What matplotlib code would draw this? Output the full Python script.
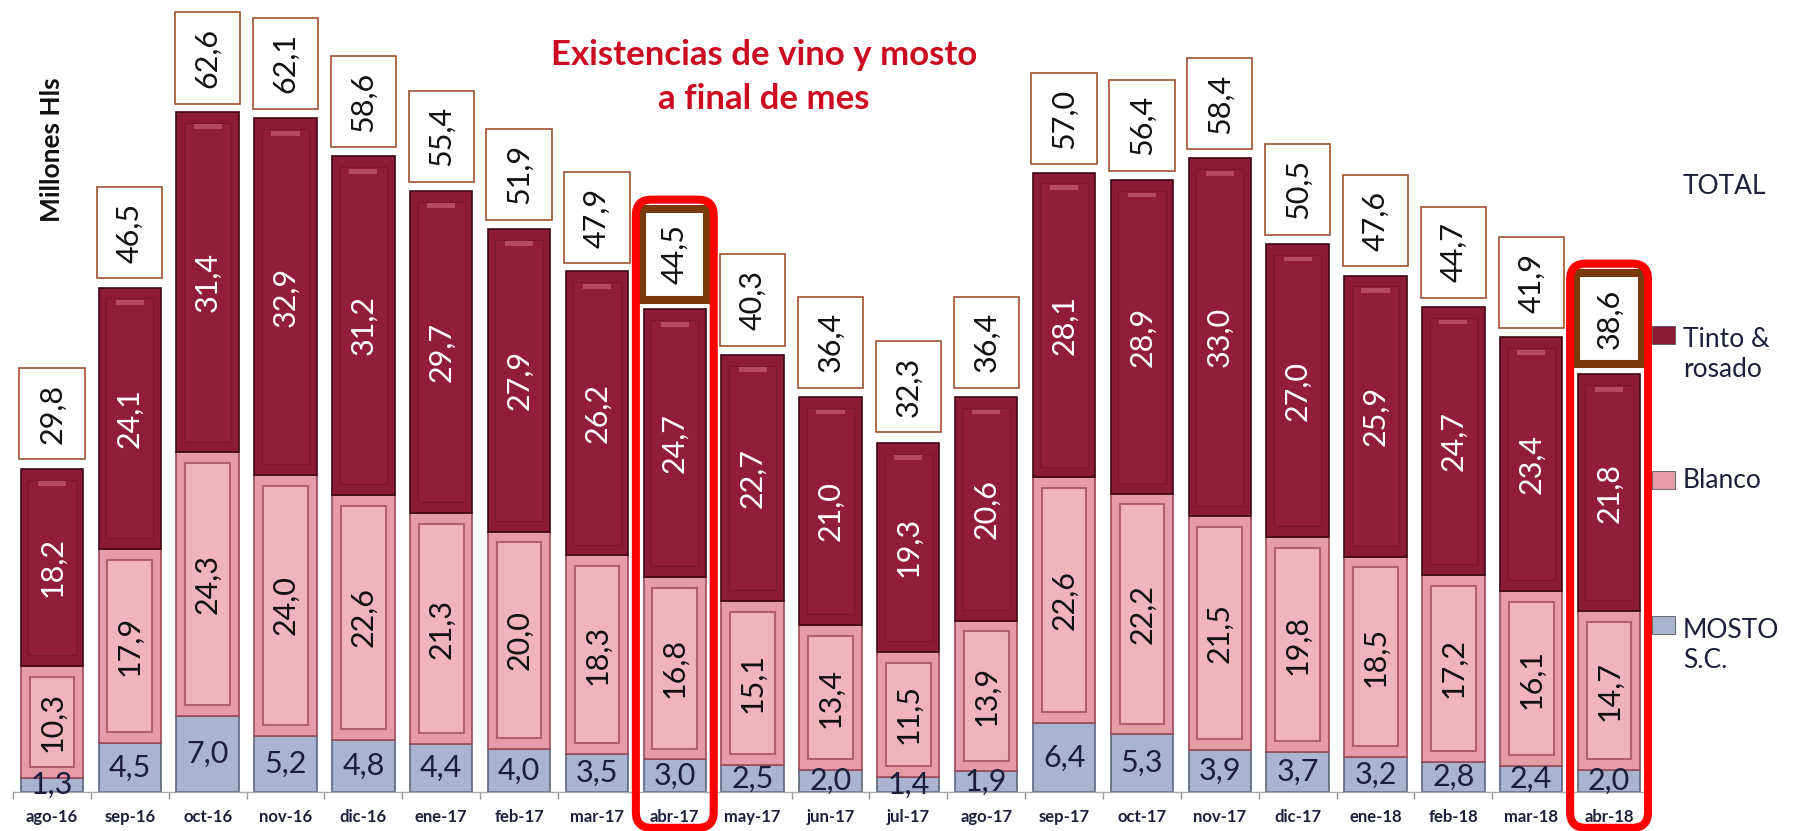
import matplotlib
matplotlib.use("Agg")
import matplotlib.pyplot as plt
from matplotlib.patches import FancyBboxPatch, Rectangle
import numpy as np

plt.rcParams['font.family'] = ['Lato', 'DejaVu Sans']

months = ["ago-16", "sep-16", "oct-16", "nov-16", "dic-16", "ene-17", "feb-17",
          "mar-17", "abr-17", "may-17", "jun-17", "jul-17", "ago-17", "sep-17",
          "oct-17", "nov-17", "dic-17", "ene-18", "feb-18", "mar-18", "abr-18"]
mosto = [1.3, 4.5, 7.0, 5.2, 4.8, 4.4, 4.0, 3.5, 3.0, 2.5, 2.0, 1.4, 1.9, 6.4,
         5.3, 3.9, 3.7, 3.2, 2.8, 2.4, 2.0]
blanco = [10.3, 17.9, 24.3, 24.0, 22.6, 21.3, 20.0, 18.3, 16.8, 15.1, 13.4,
          11.5, 13.9, 22.6, 22.2, 21.5, 19.8, 18.5, 17.2, 16.1, 14.7]
tinto = [18.2, 24.1, 31.4, 32.9, 31.2, 29.7, 27.9, 26.2, 24.7, 22.7, 21.0,
         19.3, 20.6, 28.1, 28.9, 33.0, 27.0, 25.9, 24.7, 23.4, 21.8]
total = [29.8, 46.5, 62.6, 62.1, 58.6, 55.4, 51.9, 47.9, 44.5, 40.3, 36.4,
         32.3, 36.4, 57.0, 56.4, 58.4, 50.5, 47.6, 44.7, 41.9, 38.6]
highlight = ["abr-17", "abr-18"]

C_TINTO, C_TINTO_E, C_TINTO_IN = "#8C1B37", "#3E0712", "#911D3A"
C_BLANCO, C_BLANCO_E, C_BLANCO_IN = "#E59CA8", "#9E4A58", "#F1B4BD"
C_MOSTO, C_MOSTO_E = "#A9B4D0", "#5E6680"
NAVY = "#1B1F3B"

def fmt(v):
    return f"{v:.1f}".replace(".", ",")

W, H = 1798, 831
fig = plt.figure(figsize=(W / 100, H / 100), dpi=100)
ax = fig.add_axes([13 / W, 39 / H, 1635 / W, 792 / H])
ax.set_xlim(-0.5, len(months) - 0.5)
ax.set_ylim(0, 73.0)

x = np.arange(len(months))
mosto_a = np.array(mosto)
blanco_a = np.array(blanco)
tinto_a = np.array(tinto)
top_a = mosto_a + blanco_a + tinto_a
bw = 0.8

ax.bar(x, mosto_a, width=bw, color=C_MOSTO, edgecolor=C_MOSTO_E, linewidth=1.2, zorder=2)
ax.bar(x, blanco_a, width=bw, bottom=mosto_a, color=C_BLANCO, edgecolor=C_BLANCO_E,
       linewidth=1.2, zorder=2)
ax.bar(x, tinto_a, width=bw, bottom=mosto_a + blanco_a, color=C_TINTO,
       edgecolor=C_TINTO_E, linewidth=1.2, zorder=2)

# bevel look: inner panels and top highlight
ax.bar(x, blanco_a - 2.0, width=bw * 0.72, bottom=mosto_a + 1.0, color=C_BLANCO_IN,
       edgecolor="#B0606E", linewidth=1.5, zorder=3)
ax.bar(x, tinto_a - 2.0, width=bw * 0.76, bottom=mosto_a + blanco_a + 1.0,
       color=C_TINTO_IN, edgecolor="#7A1631", linewidth=0.8, zorder=3)
ax.bar(x, 0.45, width=bw * 0.45, bottom=top_a - 1.6, color="#B44A63",
       linewidth=0, zorder=3)

for i in range(len(months)):
    ax.text(i, mosto[i] / 2, fmt(mosto[i]), ha="center", va="center",
            fontsize=22, color=NAVY, zorder=5)
    ax.text(i, mosto[i] + blanco[i] / 2, fmt(blanco[i]), ha="center", va="center",
            rotation=90, fontsize=22, color="#111111", zorder=5)
    ax.text(i, mosto[i] + blanco[i] + tinto[i] / 2, fmt(tinto[i]), ha="center",
            va="center", rotation=90, fontsize=22, color="white", zorder=5)

    hl = months[i] in highlight
    ax.bar(i, 8.4, width=0.84, bottom=total[i] + 0.85, color="white",
           edgecolor="#7A3A0C" if hl else "#A0522D", linewidth=5.8 if hl else 1.2,
           zorder=4)
    ax.text(i, total[i] + 0.85 + 4.2, fmt(total[i]), ha="center", va="center",
            rotation=90, fontsize=22, color="#111111", zorder=5)

# red highlight frames
fig.canvas.draw()
p0 = ax.transData.transform((0, 0))
p1 = ax.transData.transform((1, 1))
aspect = (p1[0] - p0[0]) / (p1[1] - p0[1])
for m in highlight:
    i = months.index(m)
    top = total[i] + 10.1
    bot = -3.3
    box = FancyBboxPatch((i - 0.5, bot), 1.0, top - bot,
                         boxstyle="round,pad=0,rounding_size=0.2",
                         mutation_aspect=aspect, facecolor="none",
                         edgecolor="#FF0000", linewidth=5.8, clip_on=False, zorder=6)
    ax.add_patch(box)

ax.set_xticks(x)
ax.set_xticklabels(months, fontsize=12, fontweight="bold", color=NAVY)
ax.set_xticks(np.arange(-0.5, len(months)), minor=True)
ax.tick_params(axis="x", which="major", length=0, pad=12)
ax.tick_params(axis="x", which="minor", length=5, color="#999999", width=1)
ax.set_yticks([])
for s in ["top", "right", "left"]:
    ax.spines[s].set_visible(False)
ax.spines["bottom"].set_color("#AAAAAA")
ax.spines["bottom"].set_linewidth(1)

fig.text(764 / W, 1 - 77 / H, "Existencias de vino y mosto\na final de mes",
         ha="center", va="center", fontsize=25, fontweight="bold", color="#CC0A22",
         linespacing=1.45)
fig.text(52 / W, 1 - 150 / H, "Millones Hls", rotation=90, ha="center", va="center",
         fontsize=19, fontweight="bold", color="#111111")

# legend
fig.text(1683 / W, 1 - 187 / H, "TOTAL", ha="left", va="center", fontsize=19,
         color=NAVY)
legend_items = [("Tinto &\nrosado", C_TINTO, 335, 354),
                ("Blanco", C_BLANCO, 480, 480),
                ("MOSTO\nS.C.", C_MOSTO, 625, 645)]
for label, col, ym, yt in legend_items:
    fig.patches.append(Rectangle((1652 / W, 1 - (ym + 9) / H), 23 / W, 18 / H,
                                 transform=fig.transFigure, facecolor=col,
                                 edgecolor="#555555", linewidth=0.6))
    fig.text(1683 / W, 1 - yt / H, label, ha="left", va="center", fontsize=19,
             color=NAVY, linespacing=1.25)

fig.savefig("out.png", dpi=100)
